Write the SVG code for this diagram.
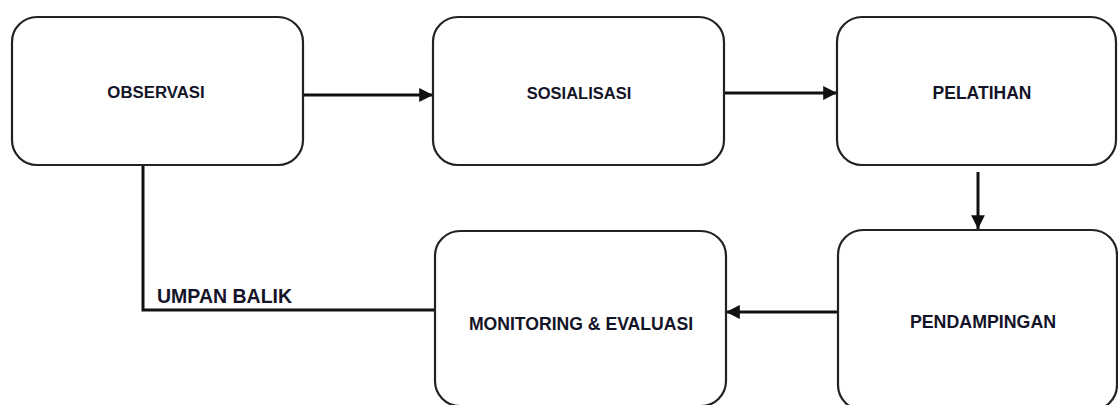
<svg xmlns="http://www.w3.org/2000/svg" width="1118" height="405" viewBox="0 0 1118 405">
<defs>
<style>
.box{fill:#fff;stroke:#222;stroke-width:2.2}
.lbl{font-family:"Liberation Sans",Arial,sans-serif;font-weight:bold;font-size:17px;fill:#141428;text-anchor:middle}
.con{fill:none;stroke:#111;stroke-width:3}
</style>
<marker id="ah" viewBox="0 0 10 10" refX="10" refY="5" markerWidth="5.2" markerHeight="4.6" markerUnits="strokeWidth" orient="auto">
<path d="M0,0 L10,5 L0,10 z" fill="#111"/>
</marker>
</defs>
<rect width="1118" height="405" fill="#fff"/>
<g id="connectors">
<line class="con" x1="302" y1="95" x2="433" y2="95" marker-end="url(#ah)"/>
<line class="con" x1="724" y1="93" x2="837" y2="93" marker-end="url(#ah)"/>
<line class="con" x1="978" y1="172" x2="978" y2="229" marker-end="url(#ah)"/>
<line class="con" x1="838" y1="312" x2="726" y2="312" marker-end="url(#ah)"/>
<polyline class="con" points="143,165 143,310 434,310"/>
<text class="lbl" x="157" y="303" style="text-anchor:start;font-size:19.5px">UMPAN BALIK</text>
</g>
<g id="observasi">
<rect class="box" x="12" y="17" width="291" height="148" rx="25"/>
<text class="lbl" x="156" y="98" style="font-size:16.8px">OBSERVASI</text>
</g>
<g id="sosialisasi">
<rect class="box" x="433" y="17" width="291" height="148" rx="25"/>
<text class="lbl" x="579" y="99" style="font-size:16.5px">SOSIALISASI</text>
</g>
<g id="pelatihan">
<rect class="box" x="837" y="17" width="279" height="148" rx="25"/>
<text class="lbl" x="982" y="99" style="font-size:17.5px">PELATIHAN</text>
</g>
<g id="pendampingan">
<rect class="box" x="838" y="230" width="279" height="180" rx="25"/>
<text class="lbl" x="983" y="328" style="font-size:17.8px">PENDAMPINGAN</text>
</g>
<g id="monitoring">
<rect class="box" x="435" y="231" width="291" height="175" rx="25"/>
<text class="lbl" x="581" y="330" style="font-size:17.6px">MONITORING &amp; EVALUASI</text>
</g>
</svg>
